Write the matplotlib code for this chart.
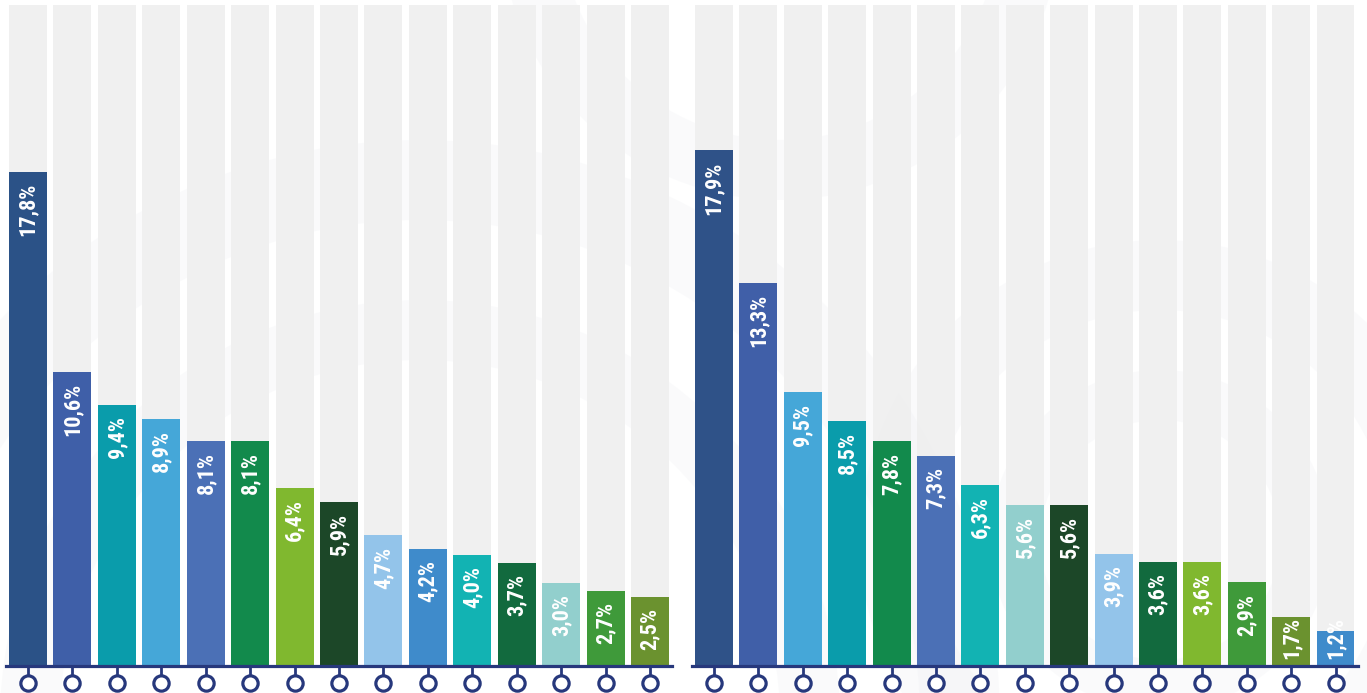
import matplotlib.pyplot as plt
import matplotlib.transforms as mtransforms
from matplotlib import font_manager
from matplotlib.patches import Wedge
import numpy as np

left_vals = [17.8, 10.6, 9.4, 8.9, 8.1, 8.1, 6.4, 5.9, 4.7, 4.2, 4.0, 3.7, 3.0, 2.7, 2.5]
left_colors = ['#2b5287', '#3f5fa8', '#0a9cab', '#45a7d8', '#4b70b6', '#128a4c', '#80b82f',
               '#1c4728', '#93c4ea', '#3f8bcb', '#12b3b3', '#126a3e', '#92cfcd', '#3f9a3a', '#6b922f']

right_vals = [17.9, 13.3, 9.5, 8.5, 7.8, 7.3, 6.3, 5.6, 5.6, 3.9, 3.6, 3.6, 2.9, 1.7, 1.2]
right_colors = ['#2f5288', '#405fa8', '#45a7d8', '#0a9cab', '#128a4c', '#4b70b6', '#12b3b3',
                '#92cfcd', '#1c4728', '#93c4ea', '#126a3e', '#80b82f', '#3f9a3a', '#6b922f', '#3f8bcb']

NAVY = '#27387c'
W, H = 1367, 693

# pick a narrow bold face if one is installed
names = {f.name for f in font_manager.fontManager.ttflist}
label_font = 'Roboto'
for cand in ['Liberation Sans Narrow', 'Roboto Condensed', 'Open Sans Condensed',
             'DejaVu Sans Condensed', 'Noto Sans Condensed', 'Roboto']:
    if cand in names:
        label_font = cand
        break

fig = plt.figure(figsize=(W / 100, H / 100), dpi=100)
fig.patch.set_facecolor('white')

# faint watermark swirls behind everything
bg = fig.add_axes([0, 0, 1, 1], zorder=0)
bg.set_xlim(0, W)
bg.set_ylim(H, 0)
bg.axis('off')
for cx, cy, r, w in [(420, 720, 580, 80), (420, 720, 420, 60), (1160, 540, 300, 70),
                     (1160, 540, 170, 50), (780, -80, 280, 60)]:
    bg.add_patch(Wedge((cx, cy), r, 0, 360, width=w, facecolor='#eceef2', alpha=0.25, lw=0))

panels = []


def draw_panel(rect, vals, colors, ymax):
    ax = fig.add_axes(rect, zorder=1)
    ax.patch.set_alpha(0)
    x = np.arange(len(vals))
    ax.bar(x, [ymax] * len(vals), width=0.855, color='#efefef', alpha=0.9, zorder=1)
    ax.bar(x, vals, width=0.855, color=colors, zorder=2)
    texts = []
    for xi, v in zip(x, vals):
        t = ax.annotate(f'{v:.1f}%'.replace('.', ','), xy=(xi, v), xytext=(0, -8),
                        textcoords='offset points', ha='center', va='top', rotation=90,
                        color='white', fontsize=16, fontweight='bold', family=label_font,
                        fontstretch='condensed', zorder=3)
        texts.append((t, xi, v))
    ax.set_xlim(-0.5, len(vals) - 0.5)
    ax.set_ylim(0, ymax)
    ax.axhline(0, color=NAVY, lw=2.3, zorder=4, clip_on=False)
    # stems and rings under each bar
    trans = mtransforms.blended_transform_factory(ax.transData, ax.transAxes)
    ah = rect[3] * H
    for xi in x:
        ax.plot([xi, xi], [0, -10 / ah], color=NAVY, lw=2, transform=trans, clip_on=False, zorder=4)
        ax.plot([xi], [-17 / ah], marker='o', ms=11, mfc='white', mec=NAVY, mew=2.3,
                transform=trans, clip_on=False, zorder=5)
    for s in ax.spines.values():
        s.set_visible(False)
    ax.set_xticks([])
    ax.set_yticks([])
    panels.append((ax, texts))


bottom = (H - 666) / H
height = 661 / H
draw_panel([5.8 / W, bottom, 666.4 / W, height], left_vals, left_colors, 23.8)
draw_panel([691.8 / W, bottom, 665.9 / W, height], right_vals, right_colors, 22.95)

# short bars: let the label sit on the baseline instead of running below it
fig.canvas.draw()
renderer = fig.canvas.get_renderer()
for ax, texts in panels:
    for t, xi, v in texts:
        bb = t.get_window_extent(renderer)
        base_px = ax.transData.transform((xi, 0))[1]
        if bb.y0 < base_px + 7:
            t.xy = (xi, 0)
            t.set_position((0, 5))
            t.set_va('bottom')

fig.savefig('out.png', dpi=100)
